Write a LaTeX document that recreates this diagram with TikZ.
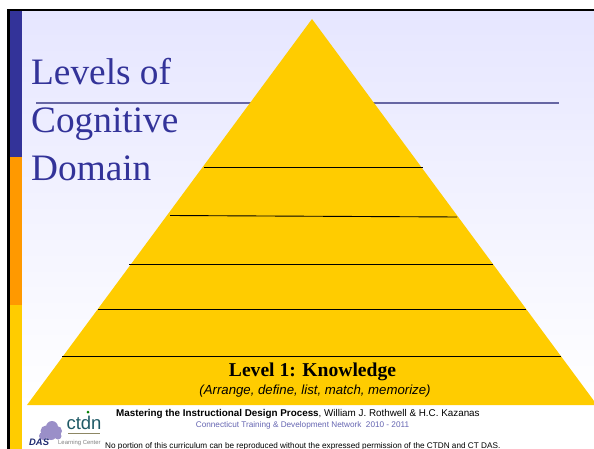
\documentclass[tikz,border=0pt]{standalone}
\usepackage{fontspec}
\setmainfont{Liberation Serif}
\setsansfont{Liberation Sans}
\definecolor{titleblue}{HTML}{333399}
\definecolor{paleblue}{HTML}{E6E6FF}
\definecolor{ruleblue}{HTML}{6666A3}
\definecolor{barorange}{HTML}{FF9900}
\definecolor{pyryellow}{HTML}{FFCC00}
\definecolor{logoteal}{HTML}{1F5A66}
\definecolor{treepurple}{HTML}{9A8FC8}
\definecolor{dasnavy}{HTML}{1F2A70}
\tikzset{
title/.style={anchor=base west,inner sep=0pt,text=titleblue,font=\fontsize{37.3}{37.3}\selectfont},
footer/.style={anchor=base west,inner sep=0pt,font=\sffamily\fontsize{8.2}{8.2}\selectfont},
levelline/.style={draw=black,line width=0.9pt},
}
\begin{document}
\begin{tikzpicture}[x=1pt,y=-1pt]
\useasboundingbox (0,0) rectangle (594,449);
\fill[white] (0,0) rectangle (594,449);
\shade[top color=paleblue,bottom color=white,shading angle=0] (9,11) rectangle (594,405);
% frame and side bar
\fill[black] (6.5,9) rectangle (594,11.5);
\fill[black] (6.5,9) rectangle (9.5,449);
\fill[titleblue] (9.5,11.5) rectangle (22,157);
\fill[barorange] (9.5,157) rectangle (22,305);
\fill[pyryellow] (9.5,305) rectangle (22,449);
% title
\draw[ruleblue,line width=2pt] (36,103) -- (559,103);
\node[title] (levels) at (31,85) {Levels of};
\node[title] (cognitive) at (31,132.5) {Cognitive};
\node[title] (domain) at (31,181) {Domain};
% pyramid
\fill[pyryellow] (312,19) -- (27,405) -- (597,405) -- cycle;
\foreach \y/\xa/\xb in {167/204/423,264/129/493,309.5/98/526,356/62/561} {
\draw[levelline] (\xa,\y) -- (\xb,\y);
}
\draw[levelline] (170,215.5) -- (457,217);
\node[inner sep=0pt,font=\bfseries\fontsize{19.6}{19.6}\selectfont] (level) at (312.5,372) {Level 1: Knowledge};
\node[inner sep=0pt,font=\sffamily\itshape\fontsize{13.2}{13.2}\selectfont] (verbs) at (315,391) {(Arrange, define, list, match, memorize)};
% footer text
\node[footer,font=\sffamily\fontsize{9.85}{9.85}\selectfont] (book) at (116,416) {\textbf{Mastering the Instructional Design Process}, William J. Rothwell \& H.C. Kazanas};
\node[footer,text=titleblue!75,anchor=base] (network) at (302.5,427) {Connecticut Training \& Development Network\ \ 2010 - 2011};
\node[footer] (notice) at (105,448) {No portion of this curriculum can be reproduced without the expressed permission of the CTDN and CT DAS.};
% logos
\foreach \x/\y/\r in {52/427/6,46/431/5.5,57/431/5,51/434/6,43/436/4,58/436/3.5} {
\fill[treepurple] (\x,\y) circle (\r);
}
\node[inner sep=0pt,anchor=base,text=logoteal,font=\sffamily\fontsize{18.5}{18.5}\selectfont] (ctdn) at (84,429) {ctdn};
\draw[treepurple!50!olive,line width=1.2pt] (68,433.5) -- (100,433.5);
\fill[green!50!black] (88,412) circle (1.5);
\node[footer,text=dasnavy,font=\sffamily\bfseries\itshape\fontsize{9.4}{9.4}\selectfont] (das) at (29,445) {DAS};
\node[footer,text=gray,font=\sffamily\fontsize{5.9}{5.9}\selectfont] (center) at (58,444) {Learning Center};
\end{tikzpicture}
\end{document}
